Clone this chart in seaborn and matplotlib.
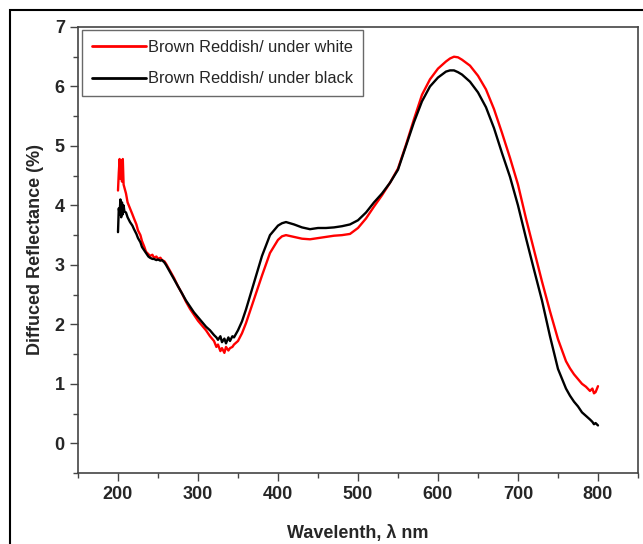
import numpy as np
import pandas as pd
import matplotlib
matplotlib.use("Agg")
import matplotlib.pyplot as plt
import seaborn as sns
from matplotlib.patches import Rectangle

# Wavelength grid (nm)
wavelength = [200, 201, 202, 203, 204, 205, 206, 207, 208, 210, 212, 215, 218, 220, 223, 225,
              228, 230, 233, 235, 238, 240, 243, 245, 248, 250, 253, 255, 258, 260, 265, 270,
              275, 280, 285, 290, 295, 300, 305, 310, 315, 320, 323, 325, 328, 330, 333, 335,
              338, 340, 343, 345, 350, 355, 360, 370, 380, 390, 400, 405, 410, 420, 430, 440,
              450, 460, 470, 480, 490, 500, 510, 520, 530, 540, 550, 560, 570, 580, 590, 600,
              610, 615, 620, 625, 630, 640, 650, 660, 670, 680, 690, 700, 710, 720, 730, 740,
              750, 760, 765, 770, 775, 780, 785, 790, 793, 795, 797, 800]

# Brown Reddish / under white (red)
refl_white = [4.25, 4.55, 4.78, 4.45, 4.75, 4.40, 4.78, 4.35, 4.30, 4.20, 4.05, 3.95, 3.85, 3.78, 3.68, 3.58,
              3.50, 3.40, 3.30, 3.22, 3.18, 3.15, 3.17, 3.12, 3.14, 3.10, 3.12, 3.08, 3.06, 3.02, 2.90, 2.78,
              2.64, 2.52, 2.38, 2.26, 2.16, 2.06, 1.98, 1.90, 1.80, 1.72, 1.62, 1.66, 1.55, 1.60, 1.52, 1.62,
              1.56, 1.60, 1.62, 1.66, 1.72, 1.85, 2.02, 2.42, 2.82, 3.20, 3.42, 3.48, 3.50, 3.47, 3.44, 3.43,
              3.45, 3.47, 3.49, 3.50, 3.52, 3.62, 3.78, 3.98, 4.17, 4.38, 4.62, 5.02, 5.45, 5.86, 6.12, 6.30,
              6.42, 6.47, 6.50, 6.49, 6.45, 6.35, 6.18, 5.95, 5.62, 5.22, 4.80, 4.35, 3.78, 3.25, 2.72, 2.22,
              1.75, 1.38, 1.26, 1.16, 1.08, 1.00, 0.95, 0.88, 0.92, 0.84, 0.86, 0.96]

# Brown Reddish / under black (black)
refl_black = [3.55, 3.95, 3.85, 4.10, 3.80, 4.05, 3.85, 4.00, 3.90, 3.88, 3.80, 3.72, 3.66, 3.60, 3.52, 3.45,
              3.38, 3.30, 3.24, 3.20, 3.14, 3.12, 3.10, 3.10, 3.08, 3.09, 3.07, 3.08, 3.04, 3.00, 2.88, 2.76,
              2.64, 2.52, 2.40, 2.30, 2.20, 2.12, 2.04, 1.96, 1.90, 1.82, 1.78, 1.74, 1.80, 1.70, 1.76, 1.68,
              1.78, 1.72, 1.80, 1.78, 1.90, 2.05, 2.25, 2.70, 3.15, 3.50, 3.66, 3.70, 3.72, 3.68, 3.63, 3.60,
              3.62, 3.62, 3.63, 3.65, 3.68, 3.75, 3.88, 4.05, 4.20, 4.38, 4.60, 5.00, 5.40, 5.75, 6.00, 6.15,
              6.25, 6.27, 6.27, 6.24, 6.20, 6.08, 5.90, 5.65, 5.30, 4.88, 4.48, 4.00, 3.45, 2.92, 2.40, 1.80,
              1.25, 0.92, 0.80, 0.70, 0.62, 0.52, 0.46, 0.40, 0.36, 0.32, 0.34, 0.30]

labels = ["Brown Reddish/ under white", "Brown Reddish/ under black"]

df = pd.concat([
    pd.DataFrame({"wl": wavelength, "refl": refl_white, "sample": labels[0]}),
    pd.DataFrame({"wl": wavelength, "refl": refl_black, "sample": labels[1]}),
])

sns.set_style("ticks")
plt.rcParams["font.family"] = ["Liberation Sans", "DejaVu Sans"]

fig = plt.figure(figsize=(6.43, 5.44), dpi=100)
ax = fig.add_axes([0.1213, 0.1305, 0.8709, 0.8199])

sns.lineplot(data=df, x="wl", y="refl", hue="sample", palette={labels[0]: "#ff0000", labels[1]: "#000000"},
             linewidth=1.7, sort=False, estimator=None, ax=ax)

ax.set_xlim(150, 850)
ax.set_ylim(-0.5, 7)
ax.set_xticks([200, 300, 400, 500, 600, 700, 800])
ax.set_yticks([0, 1, 2, 3, 4, 5, 6, 7])
ax.set_xticks(np.arange(150, 851, 50), minor=True)
ax.set_yticks(np.arange(-0.5, 7.01, 0.5), minor=True)
ax.tick_params(which="major", length=6, width=1, color="#444444", labelsize=13, direction="out")
ax.tick_params(which="minor", length=3.5, width=1, color="#444444", direction="out")
for lab in ax.get_xticklabels() + ax.get_yticklabels():
    lab.set_fontweight("bold")
for sp in ax.spines.values():
    sp.set_color("#444444")
    sp.set_linewidth(1.2)

ax.set_xlabel("Wavelenth, λ nm", fontsize=13, fontweight="bold", labelpad=16)
ax.set_ylabel("Diffuced Reflectance (%)", fontsize=13, fontweight="bold", labelpad=8)

handles, _ = ax.get_legend_handles_labels()
leg = ax.legend(handles, labels, loc="upper left", bbox_to_anchor=(0.008, 0.993), fontsize=11.8,
                frameon=True, fancybox=False, edgecolor="#444444", handlelength=3.3,
                handletextpad=0.12, labelspacing=1.0, borderpad=0.6, borderaxespad=0)
leg.get_frame().set_linewidth(1.0)
for line in leg.get_lines():
    line.set_linewidth(2)

# outer frame around the figure
fig.patches.append(Rectangle((10 / 643, -0.1), 1.2, 1.1 - 10 / 544, transform=fig.transFigure,
                             fill=False, edgecolor="black", linewidth=1.5))

fig.savefig("out.png", dpi=100)
